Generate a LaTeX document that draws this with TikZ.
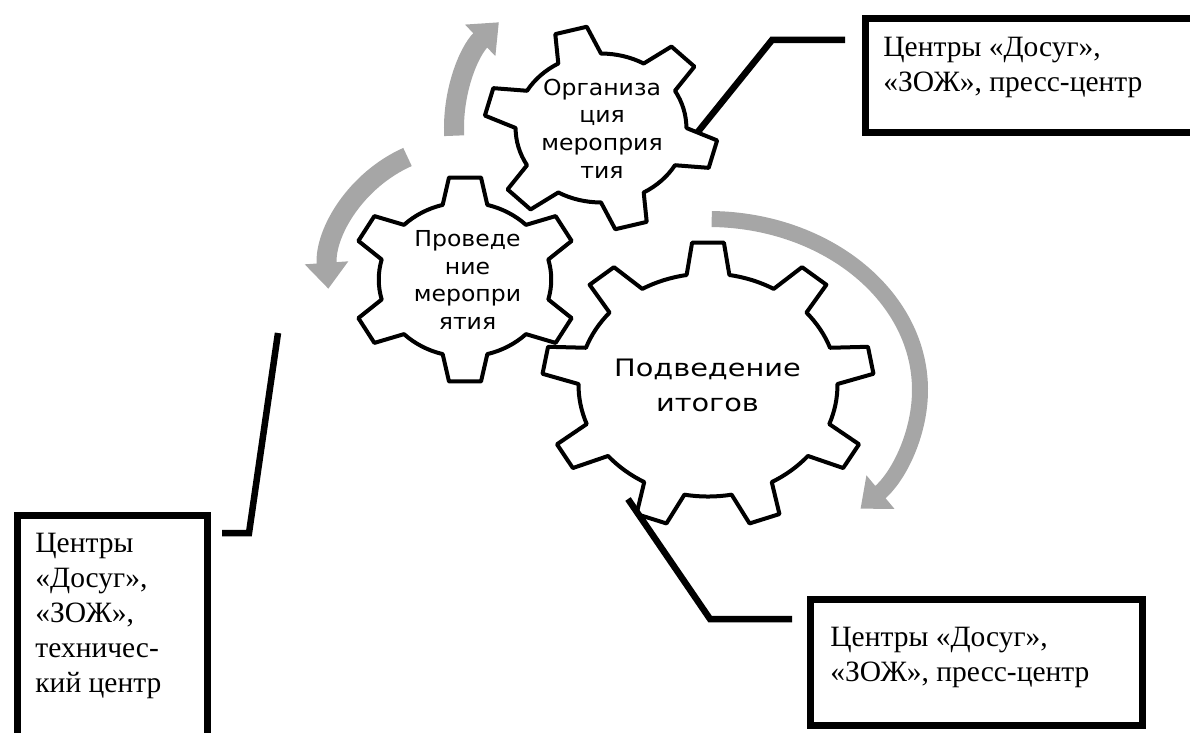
\documentclass[tikz,border=0pt]{standalone}
\usepackage{fontspec}
\setmainfont{Liberation Serif}
\newfontfamily\gearfont[FakeStretch=1.07]{DejaVu Sans}
\newfontfamily\biggearfont[FakeStretch=1.2]{DejaVu Sans}
\usetikzlibrary{arrows.meta}
\definecolor{arrowgray}{RGB}{166,166,166}

\begin{document}
\begin{tikzpicture}[x=0.5pt, y=-0.5pt,
    gearline/.style={draw=black, line width=2pt, fill=white, line join=round},
    turn/.style={draw=arrowgray, line width=10pt, -{Triangle[width=21pt,length=13pt]}},
    frame/.style={draw, line width=3.5pt, anchor=north west, inner sep=0pt},
    lead/.style={line width=3.25pt},
    boxtext/.style={anchor=north west, inner sep=0pt, align=left, font=\fontsize{14.75}{17.5}\selectfont},
    geartext/.style={align=center, inner sep=0pt, font=\gearfont\fontsize{11}{13.85}\selectfont}]
\useasboundingbox (0,0) rectangle (1190,733);
\clip (0,0) rectangle (1190,733);

% circular arrows
\draw[turn] (454.2,135.7) arc[start angle=177, end angle=226, radius=147];
\draw[turn] (407.5,157) arc[start angle=246, end angle=176, radius=134];
\draw[turn, line width=8pt] (711.7,219) arc[start angle=-89, end angle=44, x radius=212, y radius=171];

% gears
\begin{scope}[shift={(465,279.5)}, xscale=115, yscale=103]
\draw[gearline] (15:0.75) \foreach \a in {30,90,...,330} {-- ({\a-8}:1) -- ({\a+8}:1) -- ({\a+15}:0.75) arc[start angle=\a+15, end angle=\a+45, radius=0.75]} -- cycle;
\end{scope}
\begin{scope}[shift={(601,128)}, xscale=117, yscale=102]
\draw[gearline] (0:0.73) \foreach \a in {15,75,...,315} {-- ({\a-8}:1) -- ({\a+8}:1) -- ({\a+15}:0.73) arc[start angle=\a+15, end angle=\a+45, radius=0.73]} -- cycle;
\end{scope}
\begin{scope}[shift={(708,385)}, xscale=166, yscale=143]
\draw[gearline] (-99.5:0.78) \foreach \a in {-90,-50,...,230} {-- ({\a-5.5}:1) -- ({\a+5.5}:1) -- ({\a+9.5}:0.78) arc[start angle=\a+9.5, end angle=\a+30.5, radius=0.78]} -- cycle;
\end{scope}

\node[geartext] (org) at (602,128.5) {Организа\\ция\\мероприя\\тия};
\node[geartext] (prov) at (467.5,280) {Проведе\\ние\\меропри\\ятия};
\node[geartext, font=\biggearfont\fontsize{12}{17.5}\selectfont] (itog) at (707.5,385.5) {Подведение\\итогов};

% boxes
\node[frame, minimum width=169pt, minimum height=57pt] (box1) at (861.5,15.5) {};
\node[boxtext] (txt1) at (883,37) {Центры «Досуг»,\\«ЗОЖ», пресс-центр};
\node[frame, minimum width=166pt, minimum height=63pt] (box2) at (806.5,595.5) {};
\node[boxtext] (txt2) at (830,627) {Центры «Досуг»,\\«ЗОЖ», пресс-центр};
\node[frame, minimum width=95pt, minimum height=125pt] (box3) at (13.5,511.5) {};
\node[boxtext] (txt3) at (35,533) {Центры\\«Досуг»,\\«ЗОЖ»,\\техничес-\\кий центр};

% leader lines
\coordinate (l1a) at (697,133);
\coordinate (l1b) at (772,40);
\coordinate (l1c) at (845,40);
\coordinate (l2a) at (628,499);
\coordinate (l2b) at (710,619);
\coordinate (l2c) at (792,619);
\coordinate (l3a) at (278,333);
\coordinate (l3b) at (249,533);
\coordinate (l3c) at (222,533);
\draw[lead] (l1a) -- (l1b) -- (l1c);
\draw[lead] (l2a) -- (l2b) -- (l2c);
\draw[lead] (l3a) -- (l3b) -- (l3c);
\end{tikzpicture}
\end{document}
